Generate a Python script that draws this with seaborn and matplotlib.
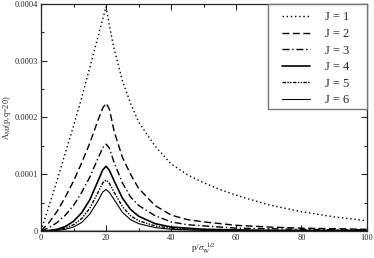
import matplotlib
matplotlib.use("Agg")
import matplotlib.pyplot as plt
import matplotlib.ticker as mticker
from matplotlib.patches import Rectangle
import seaborn as sns
import pandas as pd

# p values (in units of sigma_w^1/2)
p = [0, 2.5, 5, 7.5, 10, 12.5, 15, 17.5, 19, 20, 21, 22.5, 25, 27.5, 30, 35,
     40, 45, 50, 55, 60, 70, 80, 90, 100]

# A_MJ(p, q=20), units of 1e-4
j1 = [0, 0.45, 0.9, 1.38, 1.85, 2.35, 2.88, 3.42, 3.74, 3.95, 3.62, 3.2, 2.65,
      2.25, 1.92, 1.5, 1.18, 0.99, 0.85, 0.73, 0.63, 0.46, 0.34, 0.25, 0.18]
j2 = [0, 0.15, 0.35, 0.6, 0.88, 1.2, 1.55, 1.95, 2.17, 2.25, 2.15, 1.75, 1.3,
      1.0, 0.75, 0.45, 0.28, 0.2, 0.16, 0.13, 0.1, 0.07, 0.05, 0.04, 0.03]
j3 = [0, 0.06, 0.15, 0.28, 0.45, 0.68, 0.95, 1.28, 1.47, 1.53, 1.46, 1.2, 0.85,
      0.6, 0.45, 0.27, 0.16, 0.11, 0.09, 0.07, 0.05, 0.04, 0.03, 0.02, 0.02]
j4 = [0, 0.01, 0.03, 0.08, 0.17, 0.32, 0.55, 0.88, 1.08, 1.14, 1.07, 0.88, 0.58,
      0.38, 0.26, 0.13, 0.07, 0.05, 0.03, 0.025, 0.02, 0.01, 0.01, 0.01, 0.01]
j5 = [0, 0.005, 0.02, 0.05, 0.11, 0.22, 0.4, 0.68, 0.85, 0.9, 0.84, 0.68, 0.43,
      0.27, 0.18, 0.09, 0.05, 0.03, 0.02, 0.015, 0.01, 0.01, 0.005, 0.005, 0.005]
j6 = [0, 0.003, 0.01, 0.03, 0.07, 0.15, 0.3, 0.53, 0.69, 0.73, 0.68, 0.55, 0.33,
      0.2, 0.13, 0.06, 0.03, 0.02, 0.01, 0.008, 0.005, 0.005, 0.003, 0.003, 0.003]

labels = ["J = 1", "J = 2", "J = 3", "J = 4", "J = 5", "J = 6"]
styles = [(0, (1, 2)), (0, (5, 2.5)), (0, (5, 2, 1, 2)), "-",
          (0, (2.5, 1, 1, 1, 1, 1)), "-"]
widths = [1.0, 1.0, 1.0, 1.2, 1.0, 0.8]

sns.set_style("ticks")
plt.rcParams["font.family"] = ["Liberation Serif", "DejaVu Serif"]
plt.rcParams["mathtext.fontset"] = "stix"

fig = plt.figure(figsize=(3.74, 2.58), dpi=100)
ax = fig.add_axes([0.1096, 0.1047, 0.8704, 0.8798])

for lab, vals, ls, lw in zip(labels, [j1, j2, j3, j4, j5, j6], styles, widths):
    df = pd.DataFrame({"p": p, "A": [v * 1e-4 for v in vals]})
    sns.lineplot(data=df, x="p", y="A", ax=ax, color="black", linestyle=ls,
                 linewidth=lw, label=lab)

ax.axhline(0, color="#999999", lw=1.2, zorder=0)
ax.set_xlim(0, 100)
ax.set_ylim(0, 0.0004)
ax.xaxis.set_major_locator(mticker.MultipleLocator(20))
ax.xaxis.set_minor_locator(mticker.MultipleLocator(10))
ax.yaxis.set_major_locator(mticker.MultipleLocator(0.0001))
ax.yaxis.set_minor_locator(mticker.MultipleLocator(0.00005))
ax.yaxis.set_major_formatter(
    mticker.FuncFormatter(lambda v, _: "0" if abs(v) < 1e-12 else f"{v:.4f}"))
ax.tick_params(which="both", direction="in", top=True, right=True,
               labelsize=6, pad=2)
ax.tick_params(which="major", length=4, width=0.8)
ax.tick_params(which="minor", length=2, width=0.8)
for s in ax.spines.values():
    s.set_linewidth(0.9)

ax.set_xlabel(r"p/$\sigma_{\mathrm{W}}^{\ \ 1/2}$", fontsize=6.5, labelpad=0)
ax.set_ylabel(r"A$_{\mathrm{MJ}}$(p,q=20)", fontsize=6)
ax.yaxis.set_label_coords(-0.085, 0.5)

# legend box drawn separately so the side margins match the original
ax.add_patch(Rectangle((0.697, 0.537), 0.303, 0.463, transform=ax.transAxes,
                       facecolor="white", edgecolor="#777777", lw=1.0,
                       zorder=4, clip_on=False))
leg = ax.legend(loc="upper right", bbox_to_anchor=(0.947, 0.968),
                borderaxespad=0, borderpad=0, frameon=False,
                fontsize=9, handlelength=2.25, labelspacing=0.37,
                handletextpad=1.2)
leg.set_zorder(5)

fig.savefig("out.png", dpi=100)
